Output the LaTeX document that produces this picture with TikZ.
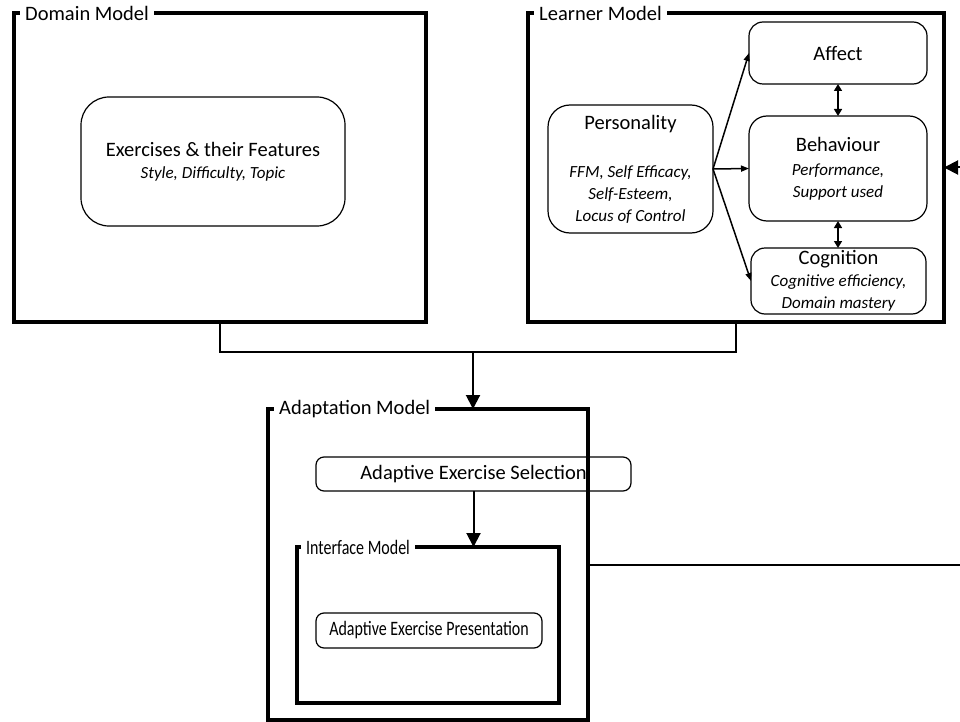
\documentclass[tikz,border=0pt]{standalone}
\usepackage{fontspec}
\setmainfont{Carlito}
\usepackage{graphicx}
\usetikzlibrary{arrows.meta}

% italic detail lines and narrow labels
\newcommand{\detail}{\fontsize{17}{21}\selectfont\itshape}
\newcommand{\squeeze}[1]{\scalebox{0.78}[1]{#1}}

\begin{document}
\begin{tikzpicture}[x=1pt,y=-1pt,
    every node/.style={font=\fontsize{20.5}{22}\selectfont, align=center},
    frame/.style={draw, line width=4pt, inner sep=0pt, outer sep=0pt},
    title/.style={fill=white, anchor=west, inner xsep=5pt, inner ysep=1pt},
    box/.style={draw, line width=1.2pt, inner sep=0pt, outer sep=0pt},
    bigarrow/.style={line width=2pt, -{Triangle[length=14pt,width=14pt]}},
    smallarrow/.style={line width=1.5pt, -{Triangle[length=8pt,width=6pt]}}]
    \useasboundingbox (0,0) rectangle (960,722);

    % the four model frames
    \node[frame, minimum width=412pt, minimum height=309pt] (domain) at (220,167.5) {};
    \node[title] at ([xshift=6pt]domain.north west) {Domain Model};
    \node[frame, minimum width=416pt, minimum height=309pt] (learner) at (736,167.5) {};
    \node[title] at ([xshift=6pt]learner.north west) {Learner Model};
    \node[frame, minimum width=320pt, minimum height=311pt] (adapt) at (428,564.5) {};
    \node[title] at ([xshift=6pt]adapt.north west) {Adaptation Model};
    \node[frame, minimum width=262pt, minimum height=156pt] (iface) at (428,625) {};
    \node[title] at ([xshift=4pt]iface.north west) {\squeeze{Interface Model}};

    % domain
    \node[box, rounded corners=28pt, minimum width=264pt, minimum height=129pt] (exer) at (213,161.5)
        {Exercises \& their Features\\\detail Style, Difficulty, Topic};

    % learner
    \node[box, rounded corners=22pt, minimum width=165pt, minimum height=128pt] (pers) at (630.5,169)
        {Personality\\[26pt]\detail FFM, Self Efficacy,\\\detail Self-Esteem,\\\detail Locus of Control};
    \node[box, rounded corners=14pt, minimum width=178pt, minimum height=62pt] (affect) at (838,53) {Affect};
    \node[box, rounded corners=18pt, minimum width=178pt, minimum height=105pt] (behav) at (838,168.5)
        {Behaviour\\[2pt]\detail Performance,\\\detail Support used};
    \node[box, rounded corners=14pt, minimum width=175pt, minimum height=66pt] (cogn) at (838.5,281)
        {Cognition\\\detail Cognitive efficiency,\\\detail Domain mastery};

    \foreach \t in {affect,behav,cogn}
        \draw[smallarrow] (pers.east) -- (\t.west);
    \draw[line width=1.5pt, {Triangle[length=7pt,width=8pt]}-{Triangle[length=7pt,width=8pt]}] (affect.south) -- (behav.north);
    \draw[line width=1.5pt, {Triangle[length=7pt,width=8pt]}-{Triangle[length=7pt,width=8pt]}] (behav.south) -- (cogn.north -| behav.south);

    % adaptation
    \node[box, rounded corners=8pt, minimum width=315pt, minimum height=34pt] (select) at (473.5,474) {Adaptive Exercise Selection};
    \node[box, rounded corners=8pt, minimum width=226pt, minimum height=35pt] (present) at (429,630.5)
        {\squeeze{Adaptive Exercise Presentation}};

    % connectors
    \coordinate (join) at (473,352);
    \draw[line width=2pt] (domain.south) |- (join) -| (learner.south);
    \draw[bigarrow] (join) -- (join |- adapt.north);
    \draw[bigarrow] (select.south) -- (select.south |- iface.north);
    \coordinate (outR) at (960,564.5);
    \draw[line width=2pt] (adapt.east) -- (outR);
    \coordinate (fbin) at (960,167.5);
    \draw[bigarrow] (fbin) -- (learner.east);
\end{tikzpicture}
\end{document}
